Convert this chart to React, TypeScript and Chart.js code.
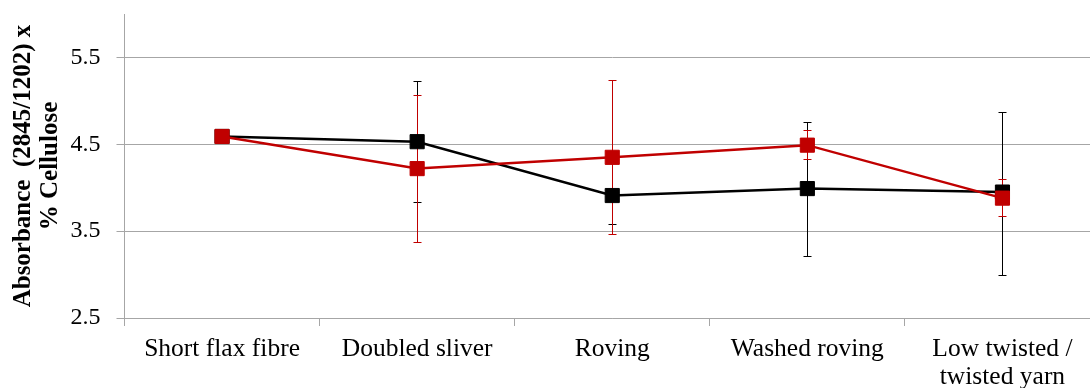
import React, { useEffect, useRef } from 'react';
import { Chart, registerables } from 'chart.js';

Chart.register(...registerables);

const categories: (string | string[])[] = [
  'Short flax fibre',
  'Doubled sliver',
  'Roving',
  'Washed roving',
  ['Low twisted /', 'twisted yarn'],
];

const blackValues = [4.59, 4.53, 3.91, 3.99, 3.95];
const blackErrPlus = [0, 0.7, 0.42, 0.77, 0.92];
const blackErrMinus = [0, 0.7, 0.33, 0.78, 0.95];

const redValues = [4.59, 4.22, 4.35, 4.49, 3.88];
const redErrPlus = [0, 0.85, 0.89, 0.17, 0.22];
const redErrMinus = [0, 0.84, 0.88, 0.16, 0.2];

const yTickValues = [2.5, 3.5, 4.5, 5.5];
const yMin = 2.5;
const yMax = 6.0;
const yTitle = ['Absorbance  (2845/1202) x', '% Cellulose'];

const FONT = "'Liberation Serif', 'Times New Roman', serif";
const GRID = '#A6A6A6';
const RED = '#C00000';
const BLACK = '#000000';

const errorBarsPlugin = {
  id: 'errorBars',
  beforeDatasetsDraw(chart: any) {
    const { ctx } = chart;
    const x = chart.scales.x;
    const y = chart.scales.y;
    const order = [1, 0];
    order.forEach((di) => {
      const ds: any = chart.data.datasets[di];
      if (!ds) return;
      const plus: number[] = ds.errPlus || [];
      const minus: number[] = ds.errMinus || [];
      ctx.save();
      ctx.strokeStyle = ds.borderColor;
      ctx.lineWidth = 1;
      (ds.data as number[]).forEach((v, i) => {
        const p = plus[i] || 0;
        const m = minus[i] || 0;
        if (!p && !m) return;
        const px = Math.round(x.getPixelForValue(i)) + 0.5;
        const top = Math.round(y.getPixelForValue(v + p)) + 0.5;
        const bot = Math.round(y.getPixelForValue(v - m)) + 0.5;
        ctx.beginPath();
        ctx.moveTo(px, top);
        ctx.lineTo(px, bot);
        ctx.moveTo(px - 4, top);
        ctx.lineTo(px + 4, top);
        ctx.moveTo(px - 4, bot);
        ctx.lineTo(px + 4, bot);
        ctx.stroke();
      });
      ctx.restore();
    });
  },
};

export default function App() {
  const canvasRef = useRef<HTMLCanvasElement | null>(null);

  useEffect(() => {
    if (!canvasRef.current) return;
    const chart = new Chart(canvasRef.current, {
      type: 'line',
      data: {
        labels: categories as any,
        datasets: [
          {
            label: 'Red',
            data: redValues,
            borderColor: RED,
            backgroundColor: RED,
            borderWidth: 2.5,
            pointStyle: 'rect',
            pointRadius: 10,
            pointBorderWidth: 1,
            pointBackgroundColor: RED,
            pointBorderColor: RED,
            tension: 0,
            errPlus: redErrPlus,
            errMinus: redErrMinus,
          } as any,
          {
            label: 'Black',
            data: blackValues,
            borderColor: BLACK,
            backgroundColor: BLACK,
            borderWidth: 2.5,
            pointStyle: 'rect',
            pointRadius: 10,
            pointBorderWidth: 1,
            pointBackgroundColor: BLACK,
            pointBorderColor: BLACK,
            tension: 0,
            errPlus: blackErrPlus,
            errMinus: blackErrMinus,
          } as any,
        ],
      },
      options: {
        animation: false,
        responsive: false,
        maintainAspectRatio: false,
        devicePixelRatio: 1,
        layout: { padding: { top: 14, left: 0, right: 0, bottom: 0 } },
        plugins: {
          legend: { display: false },
          tooltip: { enabled: false },
        },
        scales: {
          x: {
            type: 'category',
            offset: true,
            grid: {
              offset: true,
              drawOnChartArea: false,
              drawTicks: true,
              tickLength: 8,
              color: GRID,
            },
            border: { color: GRID },
            ticks: {
              color: '#000',
              font: { family: FONT, size: 25.5, lineHeight: 1.1 },
              padding: 9,
              maxRotation: 0,
              autoSkip: false,
            },
            afterFit: (s: any) => {
              s.height = 70;
              s.paddingLeft = 0;
              s.paddingRight = 0;
            },
          },
          y: {
            min: yMin,
            max: yMax,
            afterBuildTicks: (s: any) => {
              s.ticks = yTickValues.map((v) => ({ value: v }));
            },
            grid: { color: GRID, tickLength: 8 },
            border: { color: GRID },
            ticks: {
              color: '#000',
              font: { family: FONT, size: 24, lineHeight: 1.0 },
              padding: 16,
              callback: (v: any) => Number(v).toFixed(1),
            },
            title: {
              display: true,
              text: yTitle,
              color: '#000',
              font: { family: FONT, size: 25, weight: 'bold', lineHeight: 27 / 25 },
              padding: { top: 10, bottom: 0 },
            },
            afterFit: (s: any) => {
              s.width = 124.5;
              s.paddingTop = 0;
              s.paddingBottom = 0;
            },
          },
        },
      } as any,
      plugins: [errorBarsPlugin],
    });
    return () => chart.destroy();
  }, []);

  return (
    <div style={{ position: 'absolute', left: 0, top: 0, width: 1090, height: 388, overflow: 'hidden', background: '#fff' }}>
      <canvas ref={canvasRef} width={1111} height={388} style={{ display: 'block', width: 1111, height: 388 }} />
    </div>
  );
}
